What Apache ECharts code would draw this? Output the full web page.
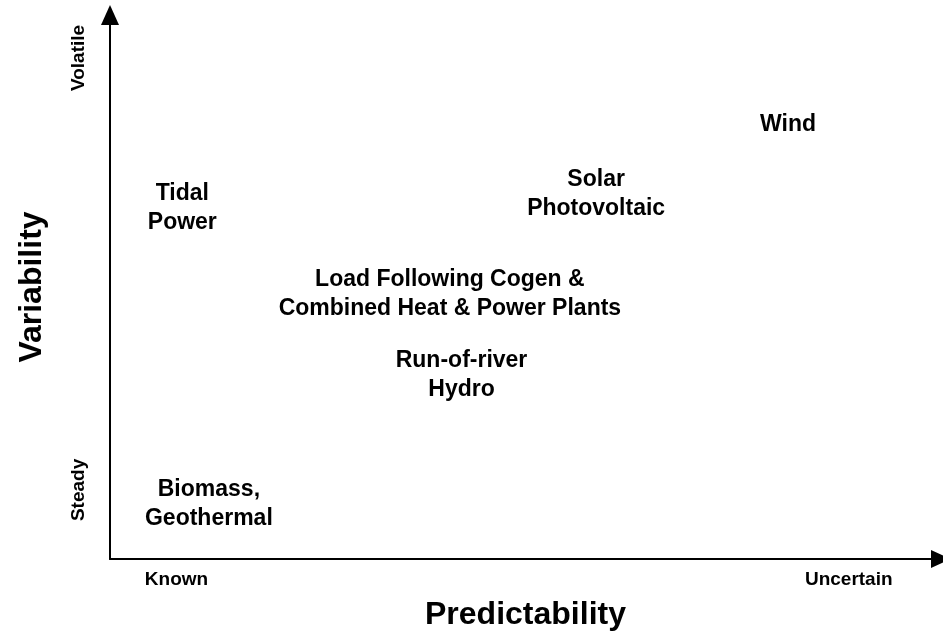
<!DOCTYPE html>
<html>
<head>
<meta charset="utf-8">
<script src="https://cdn.jsdelivr.net/npm/echarts@6/dist/echarts.min.js"></script>
<style>
  html, body { margin: 0; padding: 0; background: #fff; }
  #chart { width: 943px; height: 632px; }
</style>
</head>
<body>
<div id="chart"></div>
<script>
// energy sources placed on predictability (x) vs variability (y), 0..100
var sourceNames = ['Tidal\nPower', 'Solar\nPhotovoltaic', 'Wind',
  'Load Following Cogen &\nCombined Heat & Power Plants', 'Run-of-river\nHydro', 'Biomass,\nGeothermal']
var predictability = [8.7, 58.5, 81.6, 40.9, 42.3, 11.9]
var variability = [64.5, 67.1, 79.8, 48.7, 33.8, 10.1]

// end labels on each axis
var xTickValues = [8.0, 88.9]
var xTickLabels = ['Known', 'Uncertain']
var yTickValues = [12.7, 92.1]
var yTickLabels = ['Steady', 'Volatile']

var font = 'Liberation Sans, Arial, sans-serif'

var points = sourceNames.map(function (n, i) {
  return { name: n, value: [predictability[i], variability[i]] }
})

var chart = echarts.init(document.getElementById('chart'))
chart.setOption({
  animation: false,
  backgroundColor: '#fff',
  grid: { left: 110, right: 2, top: 15, bottom: 73, outerBoundsMode: 'none', containLabel: false },
  xAxis: {
    type: 'value',
    min: 0,
    max: 100,
    name: 'Predictability',
    nameLocation: 'middle',
    nameGap: 40,
    nameTextStyle: { fontFamily: font, fontWeight: 'bold', fontSize: 32, color: '#000' },
    axisLine: { lineStyle: { color: '#000', width: 2 }, symbol: ['none', 'triangle'], symbolSize: [18, 20] },
    axisTick: { show: false },
    splitLine: { show: false },
    axisLabel: {
      customValues: xTickValues,
      formatter: function (v) { return xTickLabels[xTickValues.indexOf(v)] || '' },
      margin: 11,
      fontFamily: font, fontWeight: 'bold', fontSize: 19, color: '#000'
    }
  },
  yAxis: {
    type: 'value',
    min: 0,
    max: 100,
    name: 'Variability',
    nameLocation: 'middle',
    nameGap: 62,
    nameRotate: 90,
    nameTextStyle: { fontFamily: font, fontWeight: 'bold', fontSize: 32, color: '#000' },
    axisLine: { lineStyle: { color: '#000', width: 2 }, symbol: ['none', 'triangle'], symbolSize: [18, 20] },
    axisTick: { show: false },
    splitLine: { show: false },
    axisLabel: {
      customValues: yTickValues,
      formatter: function (v) { return yTickLabels[yTickValues.indexOf(v)] || '' },
      rotate: 90,
      margin: 22,
      fontFamily: font, fontWeight: 'bold', fontSize: 19, color: '#000'
    }
  },
  series: [{
    type: 'scatter',
    symbolSize: 0,
    itemStyle: { opacity: 1 },
    data: points,
    label: {
      show: true,
      position: 'inside',
      formatter: '{b}',
      align: 'center',
      verticalAlign: 'middle',
      fontFamily: font,
      fontWeight: 'bold',
      fontSize: 23,
      lineHeight: 29,
      color: '#000',
      opacity: 1
    }
  }]
})
</script>
</body>
</html>
